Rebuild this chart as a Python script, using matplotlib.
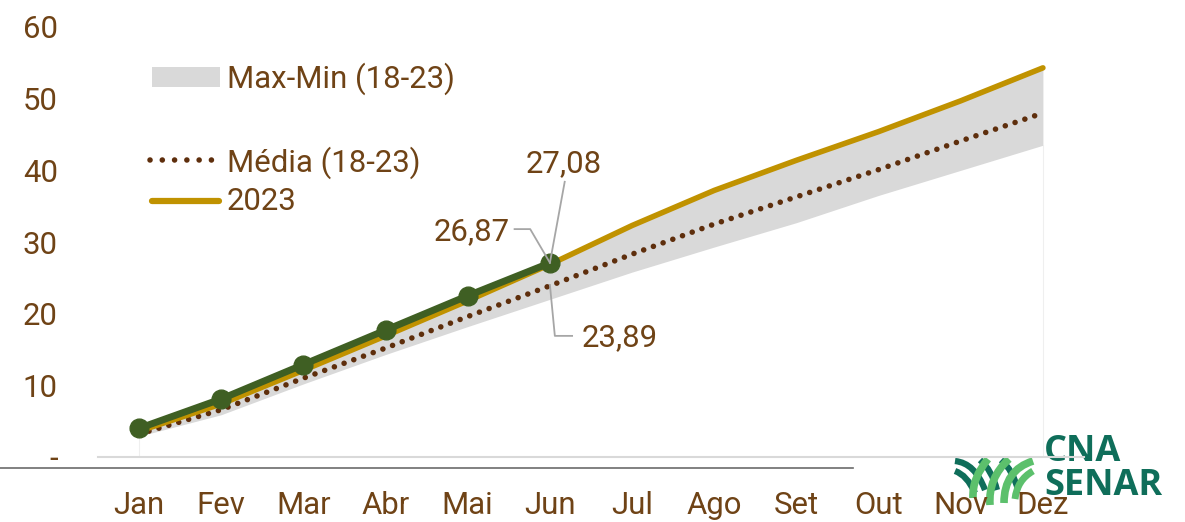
#!/usr/bin/env python3

import matplotlib
matplotlib.use('Agg')
import matplotlib.pyplot as plt
from matplotlib.path import Path
from matplotlib.patches import PathPatch, Rectangle

months = ['Jan', 'Fev', 'Mar', 'Abr', 'Mai', 'Jun', 'Jul', 'Ago', 'Set', 'Out', 'Nov', 'Dez']
y_ticks = [0, 10, 20, 30, 40, 50, 60]
y_labels = ['-', '10', '20', '30', '40', '50', '60']

serie_2023 = [3.6, 7.4, 12.1, 16.9, 21.8, 26.87, 32.3, 37.2, 41.4, 45.4, 49.7, 54.3]
serie_2024 = [4.0, 8.1, 12.9, 17.7, 22.5, 27.08]
media = [3.2, 6.6, 11.0, 15.2, 19.6, 23.89, 28.3, 32.5, 36.3, 40.1, 44.1, 48.0]
minimo = [2.9, 5.9, 10.2, 14.3, 18.2, 22.0, 25.8, 29.3, 32.7, 36.5, 40.0, 43.5]
maximo = [3.8, 7.7, 12.4, 17.2, 22.1, 26.9, 32.3, 37.2, 41.4, 45.4, 49.7, 54.3]

brown = '#6f4316'
gold = '#c09200'
green = '#3f5f23'
dot_brown = '#5e2e0c'
band = '#d9d9d9'
size = 22.4

plt.rcParams['font.family'] = ['Roboto', 'DejaVu Sans']

fig = plt.figure(figsize=(11.85, 5.22), dpi=100)
ax = fig.add_axes([98 / 1185, 65 / 522, 986 / 1185, 430 / 522])
x = list(range(12))

# Band, average and the two yearly lines
ax.vlines([0, 11], 0, [minimo[0], minimo[11]], color='#efefef', linewidth=0.8, zorder=1)
ax.fill_between(x, minimo, maximo, color=band, linewidth=0, zorder=1)
ax.plot(x, media, color=dot_brown, linewidth=4, linestyle=(0, (0.01, 1.85)),
        dash_capstyle='round', zorder=3)
ax.plot(x, serie_2023, color=gold, linewidth=4, solid_capstyle='round', zorder=4)
ax.plot(x[:6], serie_2024, color=green, linewidth=5, marker='o', markersize=13.5, zorder=5)

ax.set_xlim(-0.5, 11.5)
ax.set_ylim(0, 60)
ax.set_xticks(x, months)
ax.set_yticks(y_ticks, y_labels)
ax.tick_params(axis='both', length=0, labelsize=size, labelcolor=brown)
ax.tick_params(axis='x', pad=24.5)
ax.tick_params(axis='y', pad=29)
for side in ['top', 'right', 'left']:
    ax.spines[side].set_visible(False)
ax.spines['bottom'].set_color('#d9d9d9')
ax.spines['bottom'].set_linewidth(1.5)
ax.spines['bottom'].set_zorder(8)
ax.patch.set_alpha(0)

# Data labels with their leader lines
leader = dict(color='#a6a6a6', linewidth=1.3, zorder=6)
ax.plot([4.57, 4.76, 5.0], [31.8, 31.8, 27.1], **leader)
ax.plot([5.18, 5.0], [38.4, 27.1], **leader)
ax.plot([5.0, 5.06, 5.27], [24.0, 16.9, 16.9], **leader)
ax.text(4.51, 31.4, '26,87', color=brown, fontsize=size, ha='right', va='center')
ax.text(5.17, 40.9, '27,08', color=brown, fontsize=size, ha='center', va='center')
ax.text(5.38, 16.7, '23,89', color=brown, fontsize=size, ha='left', va='center')

# Overlays in pixel units for legend, rule and logo
over = fig.add_axes([0, 0, 1, 1], zorder=-1)
over.set_xlim(0, 1185)
over.set_ylim(522, 0)
over.axis('off')
top = fig.add_axes([0, 0, 1, 1], zorder=5)
top.set_xlim(0, 1185)
top.set_ylim(522, 0)
top.axis('off')
top.patch.set_alpha(0)

top.add_patch(Rectangle((152, 67), 68, 20, color=band, linewidth=0))
top.plot([150, 217], [160, 160], color=dot_brown, linewidth=4,
         linestyle=(0, (0.01, 2.2)), dash_capstyle='round')
top.plot([152, 219], [201, 201], color=gold, linewidth=4.5, solid_capstyle='round')
top.text(227, 79, 'Max-Min (18-23)', color=brown, fontsize=size, va='center')
top.text(227, 163, 'Média (18-23)', color=brown, fontsize=size, va='center')
top.text(227, 202, '2023', color=brown, fontsize=size, va='center')

over.plot([0, 853], [468, 468], color='#6b6b6b', linewidth=1.2)

# Logo
logo_dark = '#0f6e5a'
logo_light = '#5cc06c'
def blade(p0, p1, p2, color, width):
    over.add_patch(PathPatch(Path([p0, p1, p2], [Path.MOVETO, Path.CURVE3, Path.CURVE3]),
                             fill=False, edgecolor=color, linewidth=width, capstyle='butt'))

blade((955, 461), (975, 463), (985, 490), logo_dark, 4.5)
blade((955, 471), (967, 475), (975, 493), logo_dark, 4.5)
blade((980, 460), (992, 470), (997, 490), logo_dark, 4.5)
blade((1001, 460), (1013, 470), (1018, 490), logo_dark, 4.5)
blade((973, 498), (972, 478), (988, 459), logo_light, 5.5)
blade((990, 505), (988, 478), (1009, 459), logo_light, 5.5)
blade((1004, 503), (1004, 470), (1033, 461), logo_light, 5.5)
blade((1015, 499), (1017, 480), (1033, 471), logo_light, 5)
over.text(1044, 452, 'CNA', color=logo_dark, fontsize=26, fontweight='bold',
          family='Open Sans', va='center', ha='left')
over.text(1044, 486, 'SENAR', color=logo_dark, fontsize=26, fontweight='bold',
          family='Open Sans', va='center', ha='left')

fig.savefig('out.png', dpi=100)
